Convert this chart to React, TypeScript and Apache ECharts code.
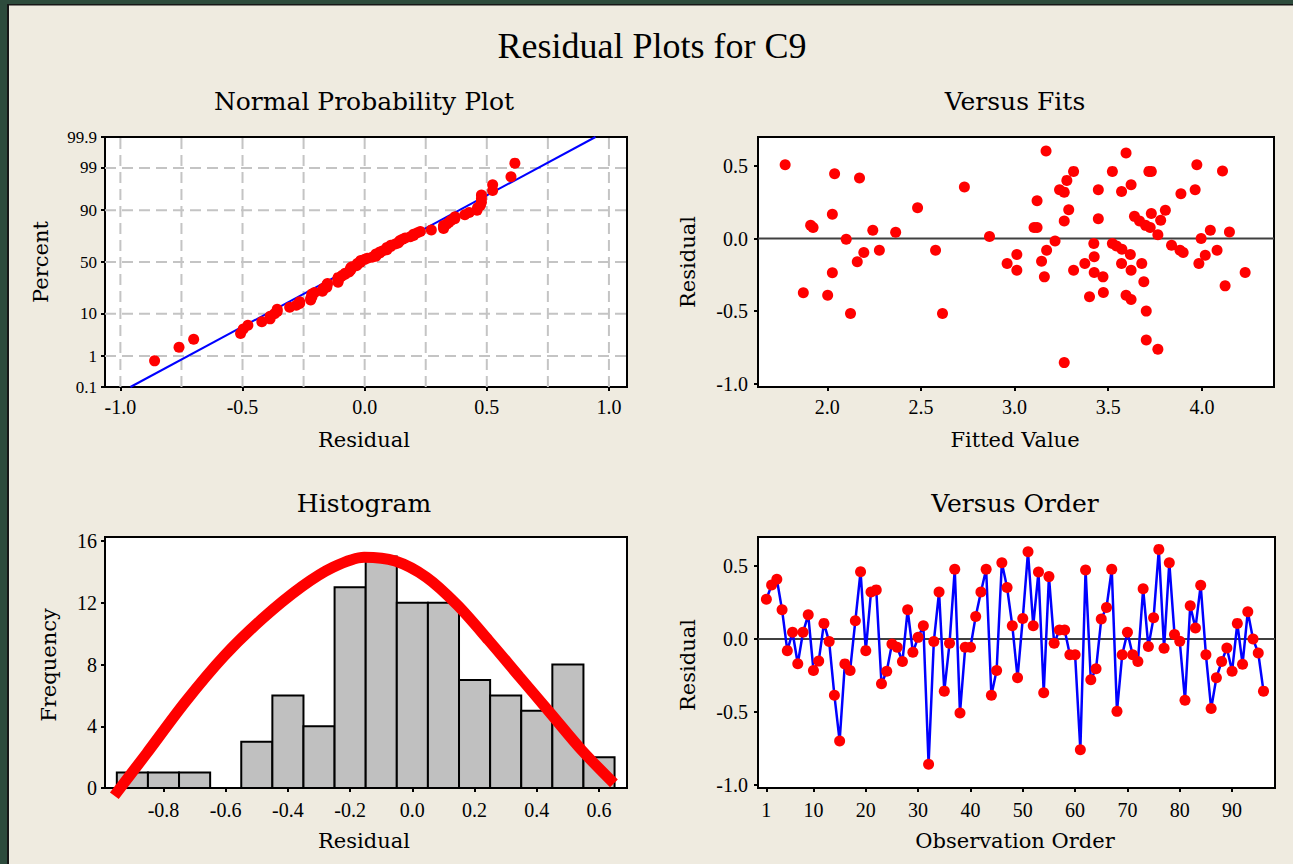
import React, { useEffect, useRef } from 'react';
import * as echarts from 'echarts';

// ---------- data ----------
const orderResiduals = [
  0.273, 0.37, 0.41, 0.2, -0.08, 0.046, -0.17, 0.046, 0.166, -0.216,
  -0.152, 0.107, -0.018, -0.387, -0.7, -0.171, -0.216, 0.125, 0.462, -0.08,
  0.323, 0.337, -0.307, -0.221, -0.034, -0.057, -0.155, 0.2, -0.091, 0.011,
  0.091, -0.86, -0.018, 0.323, -0.358, -0.03, 0.478, -0.508, -0.057, -0.057,
  0.155, 0.323, 0.478, -0.387, -0.216, 0.524, 0.353, 0.091, -0.266, 0.141,
  0.599, 0.091, 0.46, -0.369, 0.428, -0.03, 0.062, 0.062, -0.109, -0.109,
  -0.76, 0.474, -0.28, -0.205, 0.137, 0.216, 0.478, -0.497, -0.109, 0.046,
  -0.109, -0.155, 0.345, -0.052, 0.145, 0.615, -0.064, 0.524, 0.03, -0.016,
  -0.421, 0.228, 0.075, 0.369, -0.109, -0.478, -0.266, -0.155, -0.062, -0.221,
  0.107, -0.173, 0.187, 0.0, -0.096, -0.358,
];

const fittedValues = [
  1.775, 2.039, 2.172, 2.732, 2.482, 2.027, 1.911, 1.924, 2.243, 2.365,
  2.101, 2.866, 2.195, 2.278, 2.578, 2.16, 2.027, 1.872, 2.002, 2.124,
  2.615,
  3.168, 3.595, 3.973, 4.11, 3.315, 3.522, 3.717, 3.73, 3.279, 3.622,
  3.447, 3.571, 3.24, 3.265, 3.964, 3.888, 3.12, 3.289, 3.805, 3.73,
  3.64, 3.667, 3.699, 3.724, 3.78, 3.447, 3.265, 3.765, 3.104, 3.12,
  4.045, 3.996, 3.216, 3.423, 3.522, 3.544, 3.573, 3.618, 3.838, 3.883,
  3.9, 4.081, 4.018, 3.171, 3.012, 2.96, 3.012, 3.144, 3.159, 3.425,
  3.375, 3.315, 3.425, 3.472, 3.571, 3.622, 3.679, 3.69, 3.984, 3.4,
  3.474, 3.595, 3.622, 3.703, 3.703, 3.765, 3.265, 4.147, 4.231, 4.124,
];
const fitResiduals = [
  0.509, 0.447, 0.417, 0.356, 0.213, 0.167, 0.092, 0.076, 0.057, 0.044,
  -0.005, 0.014, -0.096, -0.08, -0.08, -0.16, -0.236, -0.374, -0.39, -0.516,
  -0.516,
  0.603, 0.589, 0.509, 0.465, 0.463, 0.463, 0.463, 0.463, 0.401, 0.371,
  0.337, 0.325, 0.337, 0.32, 0.337, 0.309, 0.261, 0.199, 0.195, 0.172,
  0.153, 0.121, 0.091, 0.076, 0.126, 0.137, 0.121, 0.027, 0.076, 0.076,
  0.057, 0.0, -0.016, -0.034, -0.034, -0.051, -0.074, -0.11, -0.046, -0.08,
  -0.096, -0.08, -0.115, -0.08, -0.11, -0.172, -0.218, -0.156, -0.264, -0.126,
  -0.172, -0.218, -0.234, -0.264, -0.172, -0.218, -0.172, -0.298, -0.172, -0.401,
  -0.371, -0.39, -0.42, -0.5, -0.699, -0.763, -0.855, 0.046, -0.234, -0.326,
];

const histBinCenters = [-0.9, -0.8, -0.7, -0.6, -0.5, -0.4, -0.3, -0.2, -0.1, 0.0, 0.1, 0.2, 0.3, 0.4, 0.5, 0.6];
const histCounts = [1, 1, 1, 0, 3, 6, 4, 13, 15, 12, 12, 7, 6, 5, 8, 2];
const histBinWidth = 0.1;

const curveX = [-0.958, -0.855, -0.73, -0.605, -0.48, -0.355, -0.255, -0.155, -0.055, 0.045, 0.145, 0.245, 0.345, 0.445, 0.545, 0.648];
const curveY = [-0.5, 2.22, 5.57, 8.55, 11.0, 13.05, 14.3, 14.95, 14.7, 13.65, 11.84, 9.57, 7.19, 4.82, 2.44, 0.3];

const normLineResid = [-0.959, 0.945];
const normLinePct = [0.1, 99.9];

const probPercents = [0.1, 1, 10, 50, 90, 99, 99.9];
const probLabels = ['0.1', '1', '10', '50', '90', '99', '99.9'];
const probGridPercents = [1, 10, 50, 90, 99];
const normGridX = [-1, -0.75, -0.5, -0.25, 0, 0.25, 0.5, 0.75, 1];
const normXTicks = [-1, -0.5, 0, 0.5, 1];
const fitXTicks = [2.0, 2.5, 3.0, 3.5, 4.0];
const residTicks = [-1.0, -0.5, 0.0, 0.5];
const histXTicks = [-0.8, -0.6, -0.4, -0.2, 0.0, 0.2, 0.4, 0.6];
const histYTicks = [0, 4, 8, 12, 16];
const orderTicks = [1, 10, 20, 30, 40, 50, 60, 70, 80, 90];

// ---------- helpers ----------
function probit(p: number): number {
  const a = [-3.969683028665376e1, 2.209460984245205e2, -2.759285104469687e2, 1.38357751867269e2, -3.066479806614716e1, 2.506628277459239];
  const b = [-5.447609879822406e1, 1.615858368580409e2, -1.556989798598866e2, 6.680131188771972e1, -1.328068155288572e1];
  const c = [-7.784894002430293e-3, -3.223964580411365e-1, -2.400758277161838, -2.549732539343734, 4.374664141464968, 2.938163982698783];
  const d = [7.784695709041462e-3, 3.224671290700398e-1, 2.445134137142996, 3.754408661907416];
  const plow = 0.02425;
  if (p < plow) {
    const q = Math.sqrt(-2 * Math.log(p));
    return (((((c[0] * q + c[1]) * q + c[2]) * q + c[3]) * q + c[4]) * q + c[5]) / ((((d[0] * q + d[1]) * q + d[2]) * q + d[3]) * q + 1);
  }
  if (p > 1 - plow) {
    const q = Math.sqrt(-2 * Math.log(1 - p));
    return -(((((c[0] * q + c[1]) * q + c[2]) * q + c[3]) * q + c[4]) * q + c[5]) / ((((d[0] * q + d[1]) * q + d[2]) * q + d[3]) * q + 1);
  }
  const q = p - 0.5;
  const r = q * q;
  return ((((((a[0] * r + a[1]) * r + a[2]) * r + a[3]) * r + a[4]) * r + a[5]) * q) / (((((b[0] * r + b[1]) * r + b[2]) * r + b[3]) * r + b[4]) * r + 1);
}

const TICK_FONT = 'Liberation Serif';
const NAME_FONT = 'DejaVu Serif';

function buildOption() {
  const zMin = probit(probPercents[0] / 100);
  const zMax = probit(probPercents[probPercents.length - 1] / 100);
  const probZ = probPercents.map((p) => probit(p / 100));

  const sorted = [...orderResiduals].sort((x, y) => x - y);
  const n = sorted.length;
  const normPoints = sorted.map((r, i) => [r, probit((i + 1 - 0.3) / (n + 0.4))]);

  const tickStyle = { length: 4, lineStyle: { color: '#000', width: 2 } };
  const hideLine = { show: false, onZero: false };

  const mkAxis = (gridIndex: number, min: number, max: number, ticks: number[], fmt: (v: number) => string, fontSize: number, margin: number) => ({
    type: 'value', gridIndex, min, max,
    axisLine: hideLine, splitLine: { show: false },
    axisTick: { show: true, customValues: ticks, ...tickStyle },
    axisLabel: { customValues: ticks, formatter: fmt, color: '#000', fontFamily: TICK_FONT, fontSize, margin },
  });

  const fmt1 = (v: number) => v.toFixed(1);
  const fmtInt = (v: number) => String(Math.round(v));
  const fmtProb = (v: number) => {
    let best = 0;
    probZ.forEach((z, i) => { if (Math.abs(z - v) < Math.abs(probZ[best] - v)) best = i; });
    return probLabels[best];
  };

  const gridStyle = { show: true, backgroundColor: '#ffffff', borderColor: '#000', borderWidth: 2 };

  const text = (t: string, x: number, y: number, size: number, family: string, rotation = 0) => ({
    type: 'text', x, y, rotation, silent: true,
    style: { text: t, fill: '#000', fontSize: size, fontFamily: family, align: 'center', verticalAlign: 'middle', textAlign: 'center', textVerticalAlign: 'middle' },
  });

  const red = { color: '#FF0000', opacity: 1 };

  return {
    animation: false,
    backgroundColor: '#EFEBE0',
    grid: [
      { left: 105, top: 137, width: 522, height: 250, ...gridStyle },
      { left: 758, top: 137, width: 516, height: 250, ...gridStyle },
      { left: 105, top: 537, width: 522, height: 251, ...gridStyle },
      { left: 758, top: 537, width: 517, height: 251, ...gridStyle },
    ],
    xAxis: [
      mkAxis(0, -1.063, 1.074, normXTicks, fmt1, 20, 10),
      mkAxis(1, 1.63, 4.385, fitXTicks, fmt1, 20, 10),
      mkAxis(2, -0.988, 0.69, histXTicks, fmt1, 20, 12),
      mkAxis(3, -0.6, 98.2, orderTicks, fmtInt, 20, 12),
    ],
    yAxis: [
      mkAxis(0, zMin, zMax, probZ, fmtProb, 17, 8),
      mkAxis(1, -1.023, 0.7, residTicks, fmt1, 20, 10),
      mkAxis(2, 0, 16.26, histYTicks, fmtInt, 20, 8),
      mkAxis(3, -1.023, 0.7, residTicks, fmt1, 20, 10),
    ],
    graphic: [
      { type: 'rect', shape: { x: 0, y: 0, width: 1293, height: 4 }, style: { fill: '#2D4B3C' }, silent: true },
      { type: 'rect', shape: { x: 0, y: 0, width: 7, height: 864 }, style: { fill: '#2D4B3C' }, silent: true },
      { type: 'rect', shape: { x: 7, y: 4, width: 1286, height: 1.6 }, style: { fill: '#161616' }, silent: true },
      { type: 'rect', shape: { x: 7, y: 4, width: 2, height: 860 }, style: { fill: '#161616' }, silent: true },
      text('Residual Plots for C9', 652, 46, 36, TICK_FONT),
      text('Normal Probability Plot', 364, 101, 25, NAME_FONT),
      text('Versus Fits', 1015, 101, 25, NAME_FONT),
      text('Histogram', 364, 503, 25, NAME_FONT),
      text('Versus Order', 1015, 503, 25, NAME_FONT),
      text('Percent', 41, 262, 21, NAME_FONT, Math.PI / 2),
      text('Residual', 364, 440, 21, NAME_FONT),
      text('Residual', 688, 262, 21, NAME_FONT, Math.PI / 2),
      text('Fitted Value', 1015, 440, 21, NAME_FONT),
      text('Frequency', 49, 665, 21, NAME_FONT, Math.PI / 2),
      text('Residual', 364, 841, 21, NAME_FONT),
      text('Residual', 688, 665, 21, NAME_FONT, Math.PI / 2),
      text('Observation Order', 1015, 841, 21, NAME_FONT),
    ],
    series: [
      // normal plot gridlines (vertical)
      {
        type: 'custom', xAxisIndex: 0, yAxisIndex: 0, z: 1, silent: true,
        data: normGridX.map((v) => [v, 0]),
        renderItem: (_p: any, api: any) => {
          const a = api.coord([api.value(0), zMin]);
          const b = api.coord([api.value(0), zMax]);
          return { type: 'line', shape: { x1: a[0], y1: a[1], x2: b[0], y2: b[1] }, style: { stroke: '#C4C4C4', lineWidth: 2, lineDash: [11, 6] } };
        },
      },
      // normal plot gridlines (horizontal)
      {
        type: 'custom', xAxisIndex: 0, yAxisIndex: 0, z: 1, silent: true,
        data: probGridPercents.map((p) => [0, probit(p / 100)]),
        renderItem: (_p: any, api: any) => {
          const a = api.coord([-1.063, api.value(1)]);
          const b = api.coord([1.074, api.value(1)]);
          return { type: 'line', shape: { x1: a[0], y1: a[1], x2: b[0], y2: b[1] }, style: { stroke: '#C4C4C4', lineWidth: 2, lineDash: [11, 6] } };
        },
      },
      {
        type: 'line', xAxisIndex: 0, yAxisIndex: 0, z: 2, silent: true, symbol: 'none',
        data: normLineResid.map((r, i) => [r, probit(normLinePct[i] / 100)]),
        lineStyle: { color: '#0000FF', width: 2 },
      },
      {
        type: 'scatter', xAxisIndex: 0, yAxisIndex: 0, z: 3, silent: true,
        data: normPoints, symbol: 'circle', symbolSize: 11,
        itemStyle: red,
      },
      // versus fits
      {
        type: 'line', xAxisIndex: 1, yAxisIndex: 1, z: 1, silent: true, symbol: 'none',
        data: [[1.63, 0], [4.385, 0]], lineStyle: { color: '#404040', width: 2 },
      },
      {
        type: 'scatter', xAxisIndex: 1, yAxisIndex: 1, z: 3, silent: true,
        data: fittedValues.map((f, i) => [f, fitResiduals[i]]), symbol: 'circle', symbolSize: 11,
        itemStyle: red,
      },
      // histogram
      {
        type: 'custom', xAxisIndex: 2, yAxisIndex: 2, z: 2, silent: true,
        data: histBinCenters.map((c, i) => [c, histCounts[i]]),
        renderItem: (_p: any, api: any) => {
          const x = api.value(0);
          const h = api.value(1);
          const a = api.coord([x - histBinWidth / 2, h]);
          const b = api.coord([x + histBinWidth / 2, 0]);
          return { type: 'rect', shape: { x: a[0], y: a[1], width: b[0] - a[0], height: b[1] - a[1] }, style: { fill: '#C0C0C0', stroke: '#000', lineWidth: 2 } };
        },
      },
      {
        type: 'line', xAxisIndex: 2, yAxisIndex: 2, z: 4, silent: true, symbol: 'none', clip: false, smooth: 0.3,
        data: curveX.map((x, i) => [x, curveY[i]]),
        lineStyle: { color: '#FF0000', width: 11 },
      },
      // versus order
      {
        type: 'line', xAxisIndex: 3, yAxisIndex: 3, z: 1, silent: true, symbol: 'none',
        data: [[-0.6, 0], [98.2, 0]], lineStyle: { color: '#404040', width: 2 },
      },
      {
        type: 'line', xAxisIndex: 3, yAxisIndex: 3, z: 3, silent: true,
        data: orderResiduals.map((r, i) => [i + 1, r]),
        symbol: 'circle', symbolSize: 11, showSymbol: true,
        lineStyle: { color: '#0000FF', width: 2.5 },
        itemStyle: red,
      },
    ],
  };
}

export default function App() {
  const ref = useRef<HTMLDivElement>(null);
  useEffect(() => {
    const chart = echarts.init(ref.current as HTMLDivElement, null, { renderer: 'svg', width: 1293, height: 864 });
    chart.setOption(buildOption() as any);
    return () => chart.dispose();
  }, []);
  return <div ref={ref} style={{ position: 'fixed', left: 0, top: 0, width: 1293, height: 864 }} />;
}
